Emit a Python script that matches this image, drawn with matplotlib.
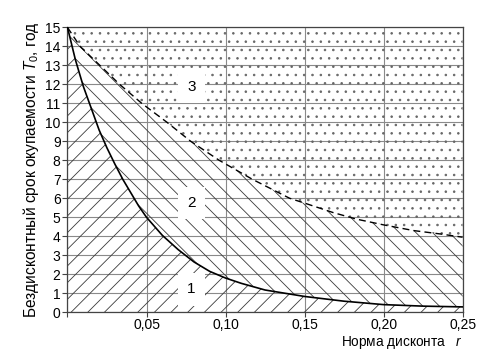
import numpy as np
import matplotlib
matplotlib.use("Agg")
import matplotlib.pyplot as plt

plt.rcParams["font.family"] = ["Liberation Sans", "DejaVu Sans"]
plt.rcParams["mathtext.fontset"] = "custom"
plt.rcParams["mathtext.rm"] = "Liberation Sans"
plt.rcParams["mathtext.it"] = "Liberation Sans:italic"
plt.rcParams["hatch.linewidth"] = 0.6

# simple payback boundary (solid)
r_simple = [0, 0.005, 0.010, 0.015, 0.020, 0.025, 0.030, 0.035, 0.040, 0.045, 0.050,
            0.060, 0.070, 0.080, 0.090, 0.100, 0.110, 0.125, 0.150, 0.175, 0.200, 0.225, 0.250]
t_simple = [15, 13.3, 11.9, 10.75, 9.6, 8.65, 7.8, 7.0, 6.3, 5.6, 5.0,
            4.05, 3.3, 2.65, 2.15, 1.8, 1.52, 1.17, 0.83, 0.58, 0.40, 0.32, 0.28]

# discounted payback boundary (dashed)
r_disc = [0, 0.008, 0.0205, 0.033, 0.047, 0.063, 0.078, 0.096, 0.117, 0.1406,
          0.151, 0.168, 0.183, 0.200, 0.219, 0.236, 0.250]
t_disc = [15, 14, 13, 12, 11, 10, 9, 8, 7, 6.0,
          5.72, 5.25, 4.9, 4.6, 4.3, 4.12, 3.95]

x_ticks = [0, 0.05, 0.10, 0.15, 0.20, 0.25]
x_labels = ["", "0,05", "0,10", "0,15", "0,20", "0,25"]
y_ticks = list(range(0, 16))

zones = ["1", "2", "3"]
zone_r = [0.0785, 0.0785, 0.0785]
zone_t = [1.2, 5.75, 11.85]

R_MAX, T_MAX = 0.25, 15

fig = plt.figure(figsize=(4.89, 3.56), dpi=100)
ax = fig.add_axes([0.138, 0.123, 0.808, 0.800])

hc = "#3a3a3a"
# zone 1: under solid curve
ax.fill(r_simple + [R_MAX, 0], t_simple + [0, 0], facecolor="none",
        edgecolor=hc, hatch="//", lw=0, zorder=1)
# zone 2: between curves
ax.fill(r_disc + r_simple[::-1], t_disc + t_simple[::-1], facecolor="none",
        edgecolor=hc, hatch="\\\\", lw=0, zorder=1)
# zone 3: above dashed curve
ax.fill(r_disc + [R_MAX, 0], t_disc + [T_MAX, T_MAX], facecolor="none",
        edgecolor="#666666", hatch="..", lw=0, zorder=1)

ax.plot(r_simple, t_simple, color="black", lw=1.2, zorder=3)
ax.plot(r_disc, t_disc, color="black", lw=1.0, ls=(0, (5, 3)), zorder=3)

for lab, x, y in zip(zones, zone_r, zone_t):
    ax.text(x, y, lab, ha="center", va="center", fontsize=11, zorder=5,
            bbox=dict(boxstyle="square,pad=0.6", fc="white", ec="none"))

ax.set_xlim(0, R_MAX)
ax.set_ylim(0, T_MAX)
ax.set_xticks(x_ticks)
ax.set_xticklabels(x_labels)
ax.set_yticks(y_ticks)
ax.tick_params(labelsize=10, length=3.5, width=0.8, color="#444444", pad=1.5)
ax.tick_params(axis="x", pad=0.5)
ax.grid(True, color="#8a8a8a", lw=0.8, zorder=0)
ax.set_axisbelow(True)
for s in ax.spines.values():
    s.set_color("#444444")
    s.set_linewidth(0.9)

ax.set_ylabel("Бездисконтный срок окупаемости $T_0$, год", fontsize=11.2, labelpad=3)
ax.set_xlabel("Норма дисконта   $\\mathit{r}$", fontsize=9.8, ha="right")
ax.xaxis.set_label_coords(1.0, -0.078)

fig.savefig("out.png", dpi=100)
